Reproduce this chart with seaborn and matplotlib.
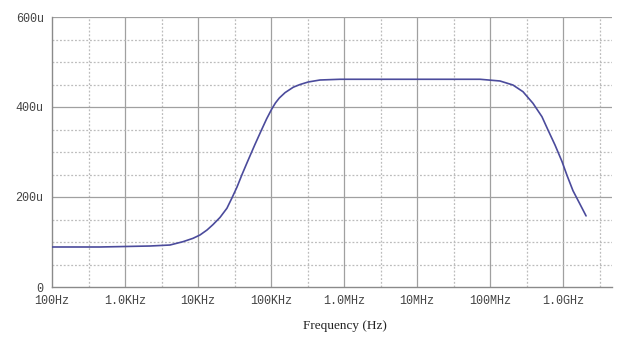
import numpy as np
import pandas as pd
import matplotlib
matplotlib.use("Agg")
import matplotlib.pyplot as plt
import seaborn as sns

# Frequency response samples (Hz, output in micro-units)
freq_hz = [100, 455, 2.2e3, 4.13e3, 6.23e3, 8.55e3, 10.65e3, 13.3e3, 16.0e3,
           20.0e3, 24.9e3, 29.2e3, 34.2e3, 40.1e3, 46.9e3, 60.0e3, 74.6e3,
           87.3e3, 102e3, 115e3, 130e3, 156e3, 202e3, 250e3, 324e3, 469e3,
           881e3, 5e6, 30e6, 73e6, 137e6, 206e6, 283e6, 388e6, 515e6, 623e6,
           777e6, 968e6, 1.135e9, 1.37e9, 1.71e9, 2.07e9]
resp_u = [88.9, 88.9, 91.1, 93.3, 100.7, 108.2, 115.6, 126.7, 138.5,
          154.5, 175, 198, 222, 250, 276, 316, 350,
          374, 395, 409, 420, 432, 444, 450, 455.6, 460,
          461.6, 461.6, 461.6, 461.6, 457.8, 448.9, 434, 408.2, 378.4, 348.9,
          315.6, 279, 248, 214, 184, 158]

xtick_vals = [1e2, 1e3, 1e4, 1e5, 1e6, 1e7, 1e8, 1e9]
xtick_labels = ["100Hz", "1.0KHz", "10KHz", "100KHz", "1.0MHz", "10MHz", "100MHz", "1.0GHz"]
ytick_vals = [0, 200, 400, 600]
ytick_labels = ["0", "200u", "400u", "600u"]

df = pd.DataFrame({"freq": freq_hz, "resp": resp_u})

sns.set_style("white")
fig = plt.figure(figsize=(6.18, 3.39), dpi=100)
ax = fig.add_axes([52 / 618, 1 - 287 / 339, 560 / 618, 270 / 339])

xmin, xmax = 100, 10 ** (2 + 560 / 73.0)
ax.set_xscale("log")
ax.set_xlim(xmin, xmax)
ax.set_ylim(0, 600)

# grid: solid at decades / labelled levels, dotted in between
grid_solid = "#a0a0a0"
grid_dot = "#bcbcbc"
for d in range(3, 10):
    ax.axvline(10 ** d, color=grid_solid, lw=0.9, zorder=0)
for d in range(2, 10):
    v = 10 ** (d + 0.5)
    if v < xmax:
        ax.axvline(v, color=grid_dot, lw=0.9, ls=(0, (1.5, 1.5)), zorder=0)
for yv in range(50, 600, 50):
    if yv in (200, 400):
        ax.axhline(yv, color=grid_solid, lw=0.9, zorder=0)
    else:
        ax.axhline(yv, color=grid_dot, lw=0.9, ls=(0, (1.5, 1.5)), zorder=0)
ax.axhline(600, color=grid_solid, lw=0.9, zorder=0)

sns.lineplot(data=df, x="freq", y="resp", ax=ax, color="#4b4b9c", lw=1.2, zorder=3)

for s in ["top", "right"]:
    ax.spines[s].set_visible(False)
for s in ["left", "bottom"]:
    ax.spines[s].set_color("#8a8a8a")
    ax.spines[s].set_linewidth(1.0)

mono = "Liberation Mono"
ax.set_xticks(xtick_vals)
ax.set_xticklabels(xtick_labels, family=mono, fontsize=8.5, color="#444444")
ax.xaxis.set_minor_locator(matplotlib.ticker.NullLocator())
ax.set_yticks(ytick_vals)
ax.set_yticklabels(ytick_labels, family=mono, fontsize=8.5, color="#444444")
ax.tick_params(axis="both", length=4, width=0.9, color="#8a8a8a", pad=2, direction="out")
ax.set_xlabel("")
ax.set_ylabel("")

fig.text(345 / 618, 1 - 326 / 339, "Frequency (Hz)", family="Liberation Serif",
         fontsize=9.5, color="#222222", ha="center", va="center")

fig.savefig("out.png", dpi=100)
